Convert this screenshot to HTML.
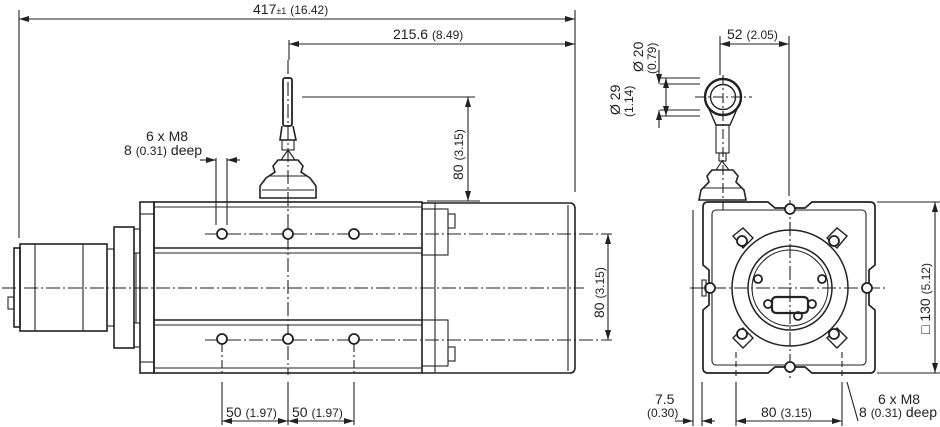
<!DOCTYPE html>
<html><head><meta charset="utf-8"><style>
html,body{margin:0;padding:0;background:#fff;width:940px;height:427px;overflow:hidden}
text{font-family:"Liberation Sans",sans-serif;fill:#222}
</style></head><body>
<svg width="940" height="427" viewBox="0 0 940 427" xmlns="http://www.w3.org/2000/svg">
<defs>
<marker id="a" viewBox="0 0 10 6" refX="10" refY="3" markerWidth="10" markerHeight="6" orient="auto-start-reverse" markerUnits="userSpaceOnUse"><path d="M0,0L10,3L0,6z" fill="#222"/></marker>
</defs>
<g stroke="#222" fill="none" stroke-width="1.1">
<line x1="19" y1="10" x2="19" y2="238"/>
<line x1="575" y1="10" x2="575" y2="192"/>
<line x1="19" y1="19" x2="575" y2="19" marker-start="url(#a)" marker-end="url(#a)"/>
<line x1="289" y1="40" x2="289" y2="60"/>
<line x1="289" y1="44" x2="575" y2="44" marker-start="url(#a)" marker-end="url(#a)"/>
<line x1="288" y1="60" x2="288" y2="375" stroke-dasharray="14,3,2,3"/>
<line x1="302" y1="97" x2="475" y2="97"/>
<line x1="468" y1="97" x2="468" y2="201" marker-start="url(#a)" marker-end="url(#a)"/>
<line x1="448" y1="201" x2="480" y2="201"/>
<rect x="283" y="78" width="9" height="48" rx="2" stroke-width="1.8"/>
<path d="M282,126 L280,140 L296,140 L293,126" stroke-width="1.6"/>
<rect x="282" y="140" width="12" height="10"/>
<path d="M288,150 L281,160 L295,160Z"/>
<path d="M278,160 L298,160 L303,166 L301,172 L310,178 L316,186 L316,198 L260,198 L260,186 L266,178 L275,172 L273,166Z" stroke-width="1.6"/>
<line x1="268" y1="176" x2="308" y2="176"/><line x1="262" y1="190" x2="314" y2="190"/>
<rect x="14" y="248" width="6" height="79" stroke-width="1.6"/>
<rect x="8" y="297" width="6" height="12"/>
<rect x="20" y="244" width="87" height="87" stroke-width="1.6"/>
<line x1="35" y1="244" x2="35" y2="331"/><line x1="83" y1="244" x2="83" y2="331"/>
<rect x="107" y="249" width="7" height="77"/>
<rect x="114" y="227" width="20" height="121" stroke-width="1.6"/>
<rect x="134" y="229" width="6" height="24"/><rect x="134" y="323" width="6" height="24"/>
<line x1="136" y1="253" x2="136" y2="323"/>
<rect x="140" y="202" width="14" height="171" stroke-width="1.6"/>
<line x1="140" y1="214" x2="154" y2="214"/><line x1="140" y1="362" x2="154" y2="362"/>
<rect x="154" y="202" width="268" height="171" stroke-width="1.6"/>
<line x1="154" y1="207" x2="422" y2="207"/><line x1="154" y1="368" x2="422" y2="368"/>
<line x1="154" y1="248" x2="422" y2="248" stroke-width="1.6"/><line x1="154" y1="253" x2="422" y2="253"/>
<line x1="154" y1="320" x2="422" y2="320" stroke-width="1.6"/><line x1="154" y1="325" x2="422" y2="325"/>
<rect x="422" y="209" width="26" height="46"/><rect x="422" y="320" width="26" height="46"/>
<rect x="448" y="214" width="7" height="14"/><rect x="448" y="347" width="7" height="14"/>
<path d="M422,203 L570,203 Q575,203 575,209 L575,367 Q575,373 570,373 L422,373" stroke-width="1.6"/>
<line x1="435" y1="203" x2="435" y2="373"/><line x1="568" y1="205" x2="568" y2="371"/>
<line x1="427" y1="201" x2="475" y2="201"/>
<line x1="2" y1="288" x2="584" y2="288" stroke-dasharray="14,3,2,3"/>
<line x1="205" y1="234" x2="612" y2="234" stroke-dasharray="14,3,2,3"/>
<line x1="205" y1="340" x2="612" y2="340" stroke-dasharray="14,3,2,3"/>
<line x1="608" y1="234" x2="608" y2="340" marker-start="url(#a)" marker-end="url(#a)"/>
<g stroke-width="1.8"><circle cx="222" cy="234" r="5" fill="#fff"/><circle cx="288" cy="234" r="5" fill="#fff"/><circle cx="354" cy="234" r="5" fill="#fff"/>
<circle cx="222" cy="339" r="5" fill="#fff"/><circle cx="288" cy="339" r="5" fill="#fff"/><circle cx="354" cy="339" r="5" fill="#fff"/></g>
<line x1="222" y1="344" x2="222" y2="375" stroke-dasharray="8,3,2,3"/><line x1="354" y1="344" x2="354" y2="375" stroke-dasharray="8,3,2,3"/>
<line x1="216" y1="158" x2="216" y2="225" /><line x1="227" y1="158" x2="227" y2="225"/>
<line x1="200" y1="160" x2="216" y2="160" marker-end="url(#a)"/><line x1="240" y1="160" x2="227" y2="160" marker-end="url(#a)"/>
<line x1="222" y1="382" x2="222" y2="425"/><line x1="288" y1="382" x2="288" y2="425"/><line x1="354" y1="382" x2="354" y2="425"/>
<line x1="222" y1="421" x2="288" y2="421" marker-start="url(#a)" marker-end="url(#a)"/>
<line x1="288" y1="421" x2="354" y2="421" marker-start="url(#a)" marker-end="url(#a)"/>

<line x1="720" y1="36" x2="720" y2="75"/><line x1="789" y1="36" x2="789" y2="196"/>
<line x1="720" y1="44" x2="789" y2="44" marker-start="url(#a)" marker-end="url(#a)"/>
<line x1="658" y1="78" x2="700" y2="78"/><line x1="658" y1="116" x2="700" y2="116"/>
<line x1="666" y1="78" x2="666" y2="116" marker-start="url(#a)" marker-end="url(#a)"/>
<line x1="660" y1="84" x2="700" y2="84"/><line x1="660" y1="110" x2="700" y2="110"/>
<line x1="659" y1="50" x2="659" y2="84" marker-end="url(#a)"/><line x1="659" y1="128" x2="659" y2="110" marker-end="url(#a)"/>
<circle cx="723" cy="97" r="18" stroke-width="2.4"/><circle cx="723" cy="97" r="12.5" stroke-width="1.4"/>
<path d="M709,109 L716,125 L730,125 L737,109" stroke-width="1.4"/>
<rect x="716" y="125" width="13" height="28"/><rect x="719" y="153" width="7" height="8"/>
<path d="M722,161 L716,170 L729,170Z"/>
<path d="M712,170 L733,170 L738,176 L736,182 L744,190 L746,200 L699,200 L701,190 L709,182 L707,176Z" stroke-width="1.6"/>
<line x1="704" y1="188" x2="741" y2="188"/>
<line x1="723" y1="75" x2="723" y2="210" stroke-dasharray="10,3,2,3"/>
<line x1="695" y1="97" x2="752" y2="97" stroke-dasharray="10,3,2,3"/>
<path d="M708,202 L768,202 L775,208 L805,208 L812,202 L870,202 Q875,202 875,207 L875,265 L869,270 L869,305 L875,310 L875,368 Q875,373 870,373 L812,373 L805,367 L775,367 L768,373 L708,373 Q703,373 703,368 L703,310 L709,305 L709,270 L703,265 L703,207 Q703,202 708,202Z" stroke-width="1.7"/>
<rect x="712" y="210" width="154" height="155" rx="4"/>
<circle cx="790" cy="288" r="58" stroke-width="1.5"/>
<circle cx="790" cy="288" r="42" stroke-width="1.5"/><circle cx="790" cy="288" r="38"/>
<line x1="690" y1="288" x2="885" y2="288" stroke-dasharray="14,3,2,3"/>
<line x1="790" y1="200" x2="790" y2="378" stroke-dasharray="14,3,2,3"/>
<g stroke-width="1.4">
<path d="M733,236 L743,228 L753,238 L743,248Z"/><path d="M827,238 L837,228 L847,236 L837,248Z"/>
<path d="M733,338 L743,328 L753,338 L743,348Z"/><path d="M827,338 L837,328 L847,338 L837,348Z"/>
</g>
<g fill="#fff" stroke-width="1.8">
<circle cx="790" cy="209" r="5"/><circle cx="790" cy="367" r="5"/><circle cx="710" cy="288" r="5"/><circle cx="867" cy="288" r="5"/>
<circle cx="742" cy="241" r="5"/><circle cx="834" cy="241" r="5"/><circle cx="742" cy="334" r="5"/><circle cx="834" cy="334" r="5"/>
<circle cx="758" cy="279" r="4"/><circle cx="822" cy="279" r="4"/>
<circle cx="768" cy="304" r="4"/><circle cx="812" cy="304" r="4"/><circle cx="798" cy="316" r="4"/>
</g>
<rect x="772" y="297" width="36" height="16" rx="4" stroke-width="2.2"/>
<rect x="702" y="280" width="4" height="16"/>
<line x1="877" y1="202" x2="940" y2="202"/><line x1="877" y1="373" x2="940" y2="373"/>
<line x1="935" y1="202" x2="935" y2="373" marker-start="url(#a)" marker-end="url(#a)"/>
<line x1="693" y1="210" x2="693" y2="426"/><line x1="702" y1="382" x2="702" y2="426"/>
<line x1="736" y1="382" x2="736" y2="426"/><line x1="842" y1="382" x2="842" y2="426"/>
<line x1="736" y1="352" x2="736" y2="378" stroke-dasharray="6,3"/><line x1="842" y1="352" x2="842" y2="378" stroke-dasharray="6,3"/>
<line x1="675" y1="421" x2="693" y2="421" marker-end="url(#a)"/><line x1="715" y1="421" x2="702" y2="421" marker-end="url(#a)"/>
<line x1="736" y1="421" x2="842" y2="421" marker-start="url(#a)" marker-end="url(#a)"/>
<line x1="847" y1="382" x2="858" y2="421"/>
</g>
<g font-size="14">
<text x="253" y="14">417<tspan font-size="9">±1</tspan> <tspan font-size="12">(16.42)</tspan></text>
<text x="393" y="39">215.6 <tspan font-size="12">(8.49)</tspan></text>
<text x="146" y="141">6 x M8</text>
<text x="124" y="155">8 <tspan font-size="12">(0.31)</tspan> deep</text>
<text transform="translate(463,180) rotate(-90)">80 <tspan font-size="12">(3.15)</tspan></text>
<text transform="translate(604,318) rotate(-90)">80 <tspan font-size="12">(3.15)</tspan></text>
<text x="226" y="417">50 <tspan font-size="12">(1.97)</tspan></text>
<text x="292" y="417">50 <tspan font-size="12">(1.97)</tspan></text>
<text x="727" y="39">52 <tspan font-size="12">(2.05)</tspan></text>
<text transform="translate(643,72) rotate(-90)">Ø 20</text>
<text transform="translate(656,74) rotate(-90)" font-size="12">(0.79)</text>
<text transform="translate(620,115) rotate(-90)">Ø 29</text>
<text transform="translate(633,117) rotate(-90)" font-size="12">(1.14)</text>
<text x="655" y="404">7.5</text>
<text x="647" y="417" font-size="12">(0.30)</text>
<text x="761" y="417">80 <tspan font-size="12">(3.15)</tspan></text>
<text x="878" y="404">6 x M8</text>
<text x="859" y="417">8 <tspan font-size="12">(0.31)</tspan> deep</text>
<text transform="translate(930,334) rotate(-90)">□ 130 <tspan font-size="12">(5.12)</tspan></text>
</g>
</svg>
</body></html>
